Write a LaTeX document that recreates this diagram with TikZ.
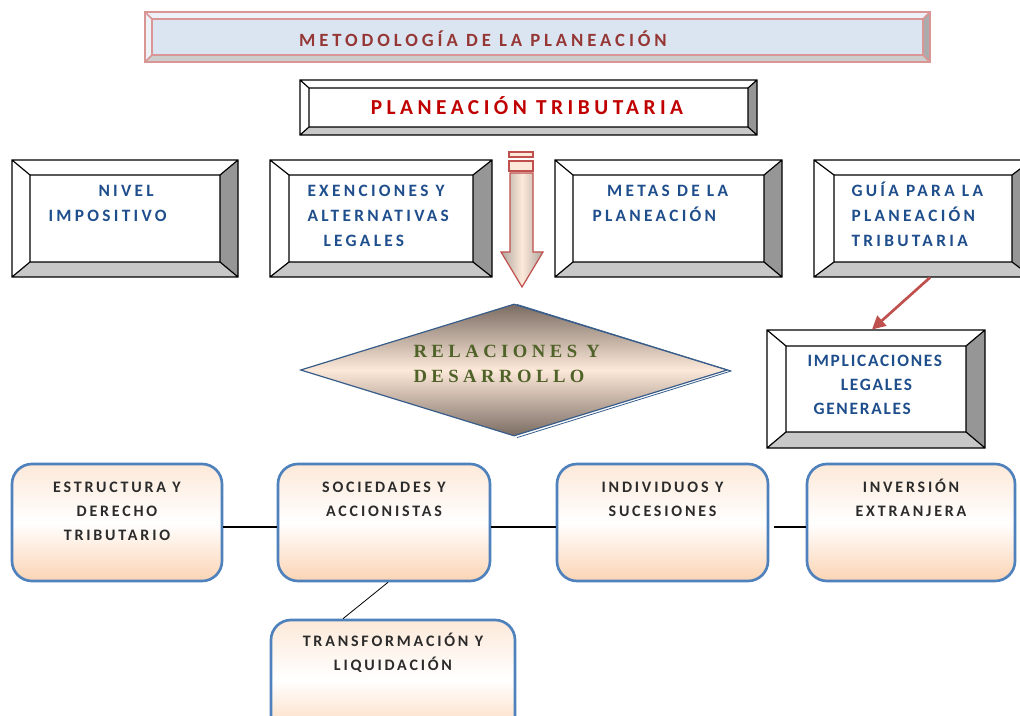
\documentclass[tikz,border=0pt]{standalone}
\usepackage{fontspec}
\usepackage{tikz}
\usetikzlibrary{positioning,calc,shapes.geometric,arrows.meta}
\usepackage{xcolor}

\newfontfamily\titlefont[LetterSpace=21]{Carlito}
\newfontfamily\boxfont[LetterSpace=19]{Carlito}
\newfontfamily\implfont[LetterSpace=10]{Carlito}
\newfontfamily\roundfont[LetterSpace=17.5]{Carlito}
\newfontfamily\diafont[LetterSpace=24]{Liberation Serif}

\definecolor{titlered}{HTML}{953735}
\definecolor{planred}{HTML}{C00000}
\definecolor{boxblue}{HTML}{1F4E8C}
\definecolor{roundgray}{HTML}{2B2B2B}
\definecolor{roundedge}{HTML}{4F81BD}
\definecolor{peach}{HTML}{FDE9D9}
\definecolor{peachdeep}{HTML}{FBD4B4}
\definecolor{diaedge}{HTML}{385D8A}
\definecolor{diadark}{HTML}{7B6C63}
\definecolor{diatext}{HTML}{4F6228}
\definecolor{arrowred}{HTML}{C0504D}
\definecolor{titlefill}{HTML}{DBE5F1}
\definecolor{titleedge}{HTML}{D99694}
\definecolor{bevdark}{HTML}{969696}
\definecolor{bevlight}{HTML}{C8C8C8}

\tikzset{every picture/.style={line width=0.75pt}}
\tikzset{
  bevel light/.style={fill=white},
  bevel right/.style={fill=bevdark},
  bevel bottom/.style={fill=bevlight},
  bevel face/.style={fill=white},
  bevel edge/.style={draw=black, line width=0.9pt},
  boxtext/.style={font=\boxfont\bfseries\fontsize{13}{19}\selectfont, text=boxblue, align=left, inner sep=0pt, anchor=north west},
  roundbox/.style={draw=roundedge, line width=2pt, rounded corners=15pt, top color=peach, bottom color=peachdeep, middle color=white, inner sep=0pt},
  roundtext/.style={font=\roundfont\bfseries\fontsize{12}{18}\selectfont, text=roundgray, align=center, inner sep=0pt, anchor=north},
  link/.style={draw=black, line width=0.9pt},
  implarrow/.style={draw=arrowred, line width=2pt, -{Triangle[length=10pt,width=10pt]}},
}

% bevelled box: [options] name, x1, y1, x2, y2, side inset, top inset
\newcommand{\bevelbox}[8][]{%
  \begin{scope}[#1]
  \node[inner sep=0pt, minimum width={(#5-#3)*0.75pt}, minimum height={(#6-#4)*0.75pt}] (#2) at ({(#3+#5)/2},{(#4+#6)/2}) {};
  \fill[bevel light] (#3,#4) -- (#5,#4) -- (#5-#7,#4+#8) -- (#3+#7,#4+#8) -- cycle;
  \fill[bevel light] (#3,#4) -- (#3+#7,#4+#8) -- (#3+#7,#6-#8) -- (#3,#6) -- cycle;
  \fill[bevel right] (#5,#4) -- (#5,#6) -- (#5-#7,#6-#8) -- (#5-#7,#4+#8) -- cycle;
  \fill[bevel bottom] (#3,#6) -- (#5,#6) -- (#5-#7,#6-#8) -- (#3+#7,#6-#8) -- cycle;
  \fill[bevel face] (#3+#7,#4+#8) rectangle (#5-#7,#6-#8);
  \draw[bevel edge] (#3,#4) rectangle (#5,#6) (#3+#7,#4+#8) rectangle (#5-#7,#6-#8)
    (#3,#4) -- (#3+#7,#4+#8) (#5,#4) -- (#5-#7,#4+#8)
    (#5,#6) -- (#5-#7,#6-#8) (#3,#6) -- (#3+#7,#6-#8);
  \end{scope}}

\begin{document}
\begin{tikzpicture}[x=0.75pt,y=0.75pt,yscale=-1,xscale=1]
\useasboundingbox (0,0) rectangle (1020,716);
\fill[white] (0,0) rectangle (1020,716);

%Title bar
\bevelbox[bevel face/.style={fill=titlefill}, bevel light/.style={fill=titlefill!50},
  bevel right/.style={fill=bevdark!80}, bevel bottom/.style={fill=bevlight!90},
  bevel edge/.style={draw=titleedge, line width=1.2pt}]{title}{145}{12}{930}{62}{7}{7}
%Planeacion box
\bevelbox{plan}{300}{80}{757}{135}{9}{8}
%Upper row
\bevelbox{nivel}{12}{160}{238}{277}{18}{15}
\bevelbox{exenc}{270}{160}{492}{277}{19}{15}
\bevelbox{metas}{555}{160}{782}{277}{18}{15}
\bevelbox{guia}{814}{160}{1032}{277}{20}{15}
%Implicaciones
\bevelbox{impl}{767}{330}{985}{448}{19}{16}

%Down arrow
\draw[arrowred, line width=0.9pt, left color=diadark!60, right color=diadark!60, middle color=peach]
  (510,173) -- (533,173) -- (533,252) -- (543,252) -- (522,287) -- (501,252) -- (510,252) -- cycle;
\draw[arrowred, line width=0.9pt, fill=peach] (509,152) rectangle (533,157);
\draw[arrowred, line width=0.9pt, fill=peach] (509,161) rectangle (533,171);

%Diamond
\node[diamond, draw=diaedge, line width=0.9pt, inner sep=0pt, minimum width=320.25pt, minimum height=99pt,
  top color=diadark, bottom color=diadark, middle color=peach] (rel) at (514,370) {};
\draw[diaedge, line width=0.6pt] ($(rel.north)+(3,1)$) -- ($(rel.east)+(3,1)$) -- ($(rel.south)+(3,1)$);

%Rounded boxes
\node[roundbox, minimum width=157.5pt, minimum height=87.75pt] (estruc) at (117,522.5) {};
\node[roundbox, minimum width=159pt, minimum height=87.75pt] (socied) at (384,522.5) {};
\node[roundbox, minimum width=158.25pt, minimum height=87.75pt] (indiv) at (662.5,522.5) {};
\node[roundbox, minimum width=156pt, minimum height=87.75pt] (inver) at (911,522.5) {};
\node[roundbox, minimum width=183pt, minimum height=90pt] (transf) at (393,680) {};

%Connectors
\draw[implarrow] ($(guia.south)+(7,0)$) -- ($(impl.north)+(-4,0)$);
\draw[link] ($(estruc.east)+(0,4.5)$) -- ($(socied.west)+(0,4.5)$);
\draw[link] ($(socied.east)+(0,4.5)$) -- ($(indiv.west)+(0,4.5)$);
\draw[link] ($(indiv.east)+(5,4.5)$) -- ($(inver.west)+(0,4.5)$);
\draw[link, line width=0.6pt] ($(socied.south)+(4,0)$) -- ($(transf.north)+(-50,0)$);

% Text Node
\node[font=\titlefont\bfseries\fontsize{14}{16}\selectfont, text=titlered, inner sep=0pt, anchor=base] (title-t) at (483,47) {METODOLOGÍA DE LA PLANEACIÓN};
% Text Node
\node[font=\titlefont\bfseries\fontsize{16}{18}\selectfont, text=planred, inner sep=0pt, anchor=base] (plan-t) at (527,114.5) {PLANEACIÓN TRIBUTARIA};
% Text Node
\node[boxtext] (nivel-t) at (48,177.8) {\strut\hspace*{37.5pt}NIVEL\\IMPOSITIVO};
% Text Node
\node[boxtext] (exenc-t) at (307,177.8) {\strut EXENCIONES Y\\ALTERNATIVAS\\\hspace*{12pt}LEGALES};
% Text Node
\node[boxtext] (metas-t) at (592,177.8) {\strut\hspace*{11pt}METAS DE LA\\PLANEACIÓN};
% Text Node
\node[boxtext] (guia-t) at (851,177.8) {\strut GUÍA PARA LA\\PLANEACIÓN\\TRIBUTARIA};
% Text Node
\node[boxtext, font=\implfont\bfseries\fontsize{13}{18}\selectfont] (impl-t) at (807,348.7) {\strut IMPLICACIONES\\\hspace*{25pt}LEGALES\\\hspace*{4.5pt}GENERALES};
% Text Node
\node[font=\diafont\bfseries\fontsize{14}{18.75}\selectfont, text=diatext, align=left, inner sep=0pt, anchor=north west] (rel-t) at (413,339.5) {\strut RELACIONES Y\\DESARROLLO};
% Text Node
\node[roundtext] (estruc-t) at ($(estruc.north)+(0,12.2)$) {\strut ESTRUCTURA Y\\DERECHO\\TRIBUTARIO};
\node[roundtext] (socied-t) at ($(socied.north)+(0,12.2)$) {\strut SOCIEDADES Y\\ACCIONISTAS};
\node[roundtext] (indiv-t) at ($(indiv.north)+(0,12.2)$) {\strut INDIVIDUOS Y\\SUCESIONES};
\node[roundtext] (inver-t) at ($(inver.north)+(0,12.2)$) {\strut INVERSIÓN\\EXTRANJERA};
\node[roundtext] (transf-t) at ($(transf.north)+(0,10.2)$) {\strut TRANSFORMACIÓN Y\\LIQUIDACIÓN};

\end{tikzpicture}
\end{document}
